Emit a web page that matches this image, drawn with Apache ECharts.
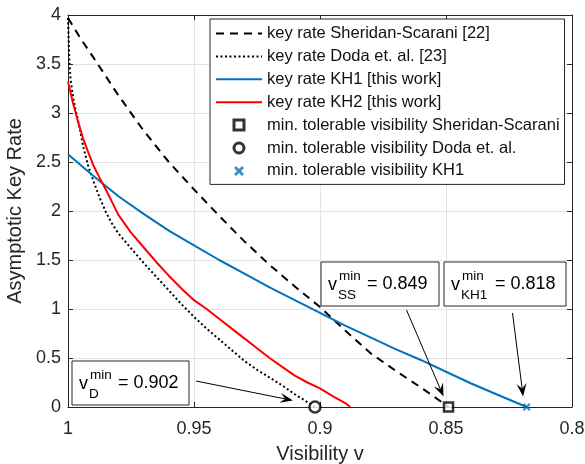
<!DOCTYPE html>
<html><head><meta charset="utf-8">
<script src="https://cdn.jsdelivr.net/npm/echarts@6/dist/echarts.min.js"></script>
<style>html,body{margin:0;padding:0;background:#fff}#c{width:585px;height:464px}</style>
</head><body><div id="c"></div>
<script>
// ---- data ----
const ssV    = [1.0, 0.995, 0.99, 0.98, 0.97, 0.96, 0.95, 0.94, 0.93, 0.92, 0.91, 0.90, 0.89, 0.88, 0.87, 0.86, 0.855, 0.849];
const ssRate = [3.97, 3.76, 3.57, 3.18, 2.82, 2.50, 2.22, 1.95, 1.69, 1.45, 1.23, 1.02, 0.78, 0.55, 0.37, 0.20, 0.11, 0];

const doV    = [1.0, 0.9995, 0.999, 0.998, 0.997, 0.996, 0.995, 0.994, 0.992, 0.99, 0.9875, 0.985, 0.9825, 0.98, 0.975, 0.97, 0.965, 0.96, 0.955, 0.95, 0.945, 0.94, 0.935, 0.93, 0.925, 0.92, 0.915, 0.91, 0.905, 0.902];
const doRate = [3.97, 3.55, 3.35, 3.16, 3.03, 2.92, 2.80, 2.66, 2.46, 2.31, 2.14, 1.99, 1.87, 1.77, 1.62, 1.47, 1.33, 1.19, 1.05, 0.92, 0.80, 0.69, 0.58, 0.47, 0.38, 0.30, 0.22, 0.13, 0.05, 0];

const kh1V    = [1.0, 0.99, 0.98, 0.97, 0.96, 0.95, 0.94, 0.93, 0.92, 0.91, 0.90, 0.89, 0.88, 0.87, 0.86, 0.85, 0.84, 0.83, 0.818];
const kh1Rate = [2.58, 2.36, 2.15, 1.97, 1.80, 1.65, 1.50, 1.36, 1.22, 1.09, 0.96, 0.83, 0.71, 0.59, 0.48, 0.36, 0.24, 0.13, 0];

const kh2V    = [1.0, 0.998, 0.996, 0.994, 0.992, 0.99, 0.9875, 0.985, 0.9825, 0.98, 0.975, 0.97, 0.965, 0.96, 0.955, 0.95, 0.945, 0.94, 0.935, 0.93, 0.925, 0.92, 0.915, 0.91, 0.905, 0.90, 0.895, 0.89, 0.888];
const kh2Rate = [3.32, 3.10, 2.91, 2.74, 2.60, 2.47, 2.34, 2.22, 2.09, 1.96, 1.78, 1.63, 1.48, 1.34, 1.21, 1.09, 1.00, 0.90, 0.80, 0.70, 0.60, 0.50, 0.41, 0.32, 0.25, 0.19, 0.11, 0.04, 0];

const minVisSS = 0.849, minVisD = 0.902, minVisKH1 = 0.818;

const seriesNames = [
  'key rate Sheridan-Scarani [22]',
  'key rate Doda et. al. [23]',
  'key rate KH1 [this work]',
  'key rate KH2 [this work]',
  'min. tolerable visibility Sheridan-Scarani',
  'min. tolerable visibility Doda et. al.',
  'min. tolerable visibility KH1'
];

const FONT = '"Liberation Sans", Arial, Helvetica, sans-serif';
const TXT = '#262626';
const zip = (a, b) => a.map((v, i) => [v, b[i]]);
const xPath = 'path://M0,2 L2,0 L5,3 L8,0 L10,2 L7,5 L10,8 L8,10 L5,7 L2,10 L0,8 L3,5 Z';
const sqPath = 'path://M0,0 L10,0 L10,10 L0,10 Z';

const chart = echarts.init(document.getElementById('c'), null, {renderer: 'canvas'});
const axisCommon = {
  type: 'value',
  axisLine: {show: true, onZero: false, lineStyle: {color: TXT, width: 1}},
  axisTick: {show: true, inside: true, length: 5, lineStyle: {color: TXT}},
};
chart.setOption({
  animation: false,
  backgroundColor: '#fff',
  textStyle: {fontFamily: FONT},
  grid: {left: 68, right: 13, top: 15, bottom: 57, containLabel: false, outerBoundsMode: 'none'},
  xAxis: [
    Object.assign({}, axisCommon, {
      min: 0.8, max: 1, interval: 0.05, inverse: true, position: 'bottom',
      axisLabel: {color: TXT, fontSize: 18, fontFamily: FONT, margin: 13,
        formatter: v => String(+v.toFixed(2))},
      splitLine: {show: true, lineStyle: {color: '#e3e3e3', width: 1}},
      name: 'Visibility v', nameLocation: 'middle', nameGap: 37,
      nameTextStyle: {color: TXT, fontSize: 20, fontFamily: FONT}
    }),
    Object.assign({}, axisCommon, {
      min: 0.8, max: 1, interval: 0.05, inverse: true, position: 'top',
      axisLabel: {show: false}, splitLine: {show: false}
    })
  ],
  yAxis: [
    Object.assign({}, axisCommon, {
      min: 0, max: 4, interval: 0.5, position: 'left',
      axisLabel: {color: TXT, fontSize: 18, fontFamily: FONT, margin: 7,
        formatter: v => String(+v.toFixed(1))},
      splitLine: {show: true, lineStyle: {color: '#e3e3e3', width: 1}},
      name: 'Asymptotic Key Rate', nameLocation: 'middle', nameGap: 36,
      nameTextStyle: {color: TXT, fontSize: 20, fontFamily: FONT}
    }),
    Object.assign({}, axisCommon, {
      min: 0, max: 4, interval: 0.5, position: 'right',
      axisLabel: {show: false}, splitLine: {show: false}
    })
  ],
  legend: {
    orient: 'vertical', left: 210, top: 19,
    padding: [6, 5, 5, 5],
    backgroundColor: '#fff', borderColor: TXT, borderWidth: 1,
    itemWidth: 46, itemHeight: 10, itemGap: 5.9,
    textStyle: {color: '#111', fontSize: 16.5, fontFamily: FONT, lineHeight: 14},
    selectedMode: false,
    data: [
      {name: seriesNames[0], itemStyle: {opacity: 0}},
      {name: seriesNames[1], itemStyle: {opacity: 0}},
      {name: seriesNames[2], itemStyle: {opacity: 0}},
      {name: seriesNames[3], itemStyle: {opacity: 0}},
      {name: seriesNames[4], icon: sqPath, itemStyle: {borderWidth: 3, borderColor: '#000', color: '#fff'}},
      {name: seriesNames[5], itemStyle: {borderWidth: 3, borderColor: '#000', color: '#fff'}},
      {name: seriesNames[6]}
    ]
  },
  series: [
    {name: seriesNames[0], type: 'line', data: zip(ssV, ssRate), symbol: 'none',
     lineStyle: {color: '#000', width: 2, type: [8, 6]}, itemStyle: {color: '#000'}, z: 3},
    {name: seriesNames[1], type: 'line', data: zip(doV, doRate), symbol: 'none',
     lineStyle: {color: '#000', width: 2, type: [2, 2.5]}, itemStyle: {color: '#000'}, z: 3},
    {name: seriesNames[2], type: 'line', data: zip(kh1V, kh1Rate), symbol: 'none',
     lineStyle: {color: '#0072BD', width: 2}, itemStyle: {color: '#0072BD'}, z: 3},
    {name: seriesNames[3], type: 'line', data: zip(kh2V, kh2Rate), symbol: 'none',
     lineStyle: {color: '#FF0000', width: 2}, itemStyle: {color: '#FF0000'}, z: 3},
    {name: seriesNames[4], type: 'scatter', data: [[minVisSS, 0]], symbol: sqPath, symbolSize: 9,
     itemStyle: {color: '#fff', borderColor: '#000', borderWidth: 2.5}, z: 5},
    {name: seriesNames[5], type: 'scatter', data: [[minVisD, 0]], symbol: 'circle', symbolSize: 11,
     itemStyle: {color: '#fff', borderColor: '#000', borderWidth: 2.5}, z: 5},
    {name: seriesNames[6], type: 'scatter', data: [[minVisKH1, 0]], symbol: xPath, symbolSize: 8,
     itemStyle: {color: '#0072BD'}, z: 5}
  ]
});

// ---- annotations (text boxes + arrows pointing at the min-visibility markers) ----
function px(v, r) { return chart.convertToPixel({xAxisIndex: 0, yAxisIndex: 0}, [v, r]); }
function arrow(x0, y0, x1, y1) {
  const dx = x1 - x0, dy = y1 - y0, L = Math.hypot(dx, dy);
  const ux = dx / L, uy = dy / L, nx = -uy, ny = ux;
  const hl = 13, hw = 5, notch = 8;
  const bx = x1 - ux * hl, by = y1 - uy * hl;
  const mx = x1 - ux * notch, my = y1 - uy * notch;
  return [
    {type: 'line', shape: {x1: x0, y1: y0, x2: mx, y2: my}, style: {stroke: '#000', lineWidth: 1}, z: 20},
    {type: 'polygon', shape: {points: [[x1, y1], [bx + nx * hw, by + ny * hw], [mx, my], [bx - nx * hw, by - ny * hw]]},
     style: {fill: '#000'}, z: 20}
  ];
}
function box(left, top, w, h, sub, mainText, mainOff) {
  return [
    {type: 'rect', shape: {x: left, y: top, width: w, height: h}, style: {fill: '#fff', stroke: TXT, lineWidth: 1}, z: 19},
    {type: 'text', x: left + 7, y: top + 23, style: {text: 'v', fontSize: 18, fontFamily: FONT, fill: '#000', verticalAlign: 'middle'}, z: 21},
    {type: 'text', x: left + 18, y: top + 14.5, style: {text: 'min', fontSize: 13.5, fontFamily: FONT, fill: '#000', verticalAlign: 'middle'}, z: 21},
    {type: 'text', x: left + 17, y: top + 33.5, style: {text: sub, fontSize: 13.5, fontFamily: FONT, fill: '#000', verticalAlign: 'middle'}, z: 21},
    {type: 'text', x: left + mainOff, y: top + 22, style: {text: mainText, fontSize: 18, fontFamily: FONT, fill: '#000', verticalAlign: 'middle'}, z: 21}
  ];
}
const pD = px(minVisD, 0), pSS = px(minVisSS, 0), pKH = px(minVisKH1, 0);
const g = [].concat(
  box(72, 361, 117, 44, 'D', '= ' + minVisD.toFixed(3), 46),
  box(321, 262, 118, 44, 'SS', '= ' + minVisSS.toFixed(3), 46),
  box(444, 262, 122, 44, 'KH1', '= ' + minVisKH1.toFixed(3), 51),
  arrow(196, 381, pD[0] - 22, pD[1] - 6.5),
  arrow(406.5, 310, pSS[0] - 5, pSS[1] - 10.5),
  arrow(512.5, 313, pKH[0] - 3.5, pKH[1] - 10.5)
);
chart.setOption({graphic: {elements: g}});
</script>
</body></html>
